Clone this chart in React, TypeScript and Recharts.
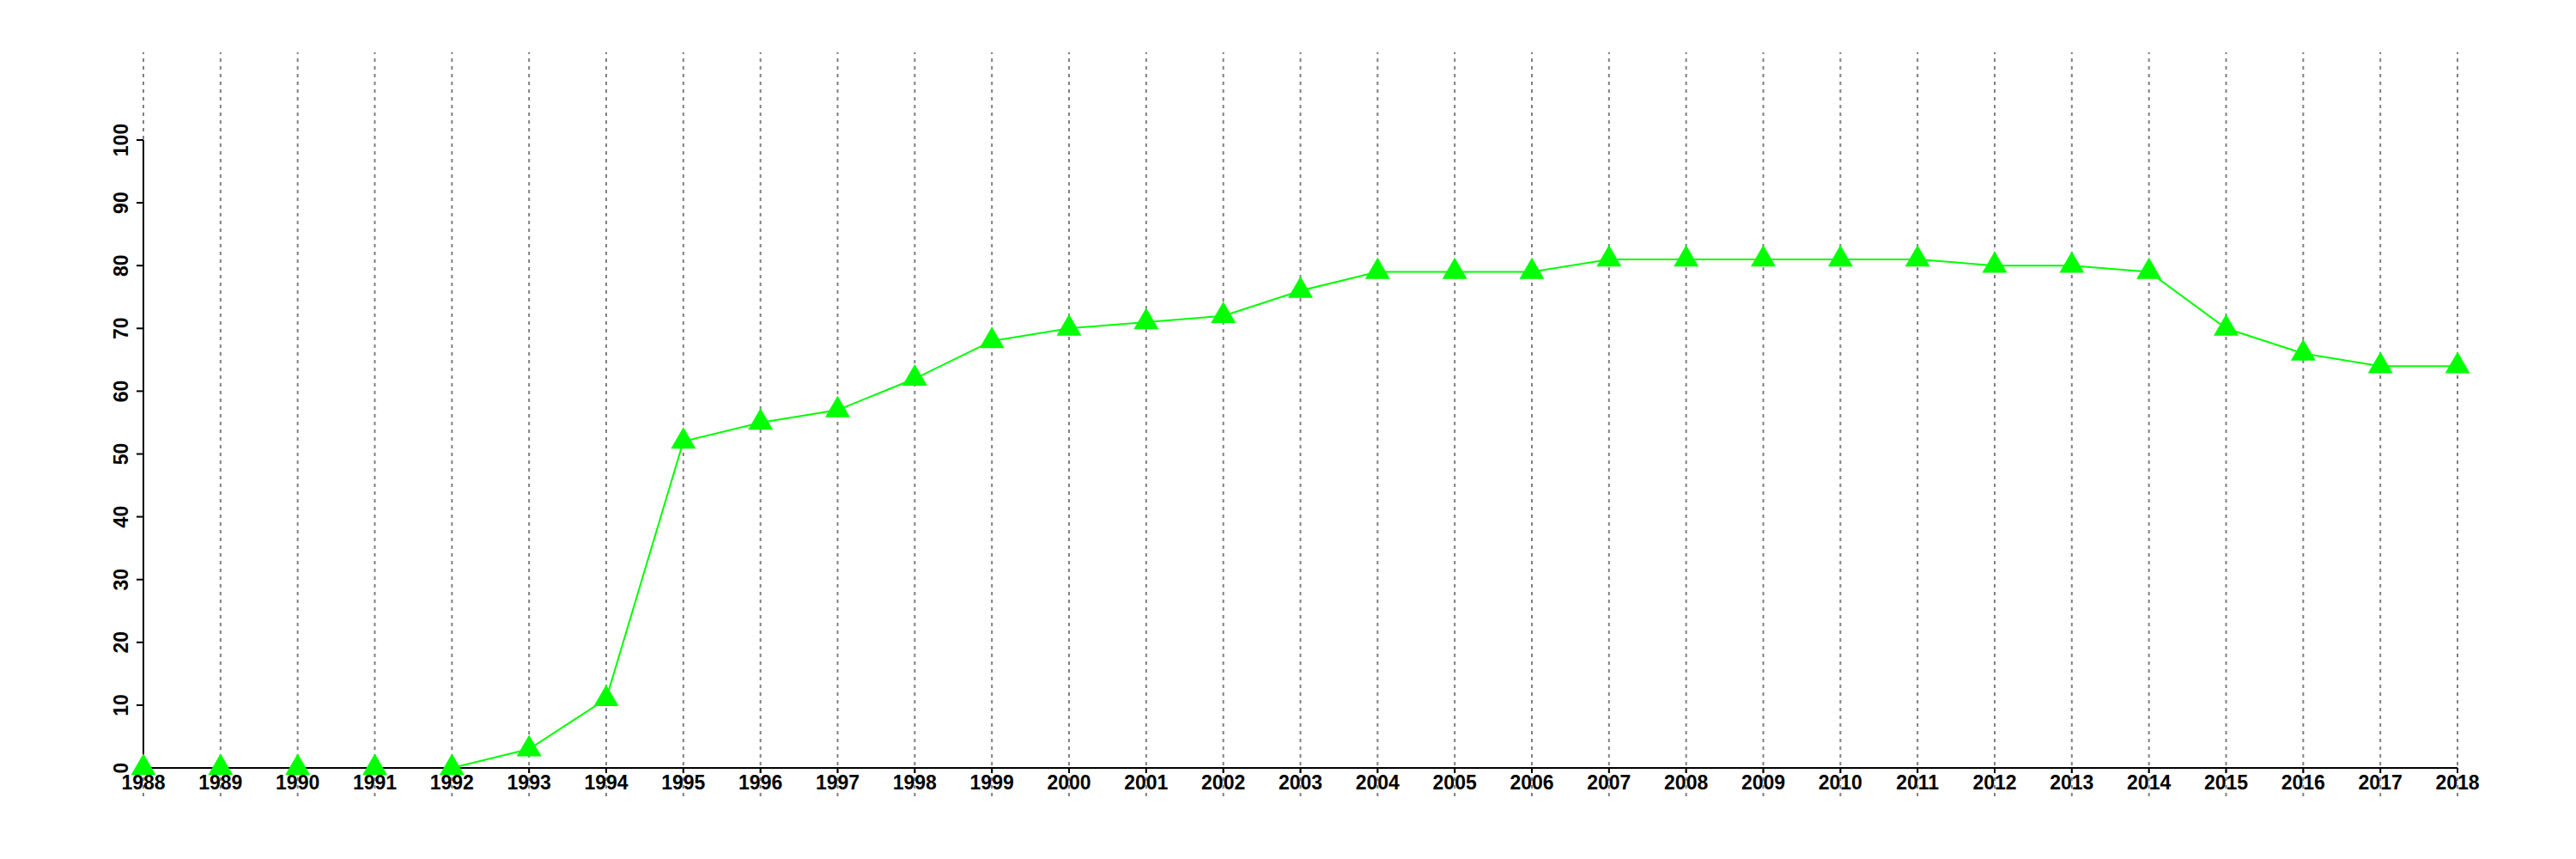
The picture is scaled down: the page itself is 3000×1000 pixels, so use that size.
import { LineChart, Line, XAxis, YAxis, ReferenceLine } from "recharts";

const years = [
  1988, 1989, 1990, 1991, 1992, 1993, 1994, 1995, 1996, 1997, 1998, 1999, 2000,
  2001, 2002, 2003, 2004, 2005, 2006, 2007, 2008, 2009, 2010, 2011, 2012, 2013,
  2014, 2015, 2016, 2017, 2018,
];
const values = [
  0, 0, 0, 0, 0, 3, 11, 52, 55, 57, 62, 68, 70, 71, 72, 76, 79, 79, 79, 81, 81,
  81, 81, 81, 80, 80, 79, 70, 66, 64, 64,
];
const yTicks = [0, 10, 20, 30, 40, 50, 60, 70, 80, 90, 100];
// vertical dotted guides run a bit past the plot on both ends
const gridBottom = -4.5;
const gridTop = 114;

const data = years.map((year, i) => ({ year, value: values[i] }));

const FONT = "'Liberation Sans', Arial, sans-serif";

const Triangle = (props: any) => {
  const { cx, cy, index } = props;
  if (cx == null || cy == null) return null;
  const w = 29;
  const h = 25;
  return (
    <polygon
      key={`tri-${index}`}
      points={`${cx},${cy - (2 * h) / 3} ${cx - w / 2},${cy + h / 3} ${cx + w / 2},${cy + h / 3}`}
      fill="#00ff00"
    />
  );
};

const YTick = (props: any) => {
  const { x, y, payload } = props;
  return (
    <text
      transform={`translate(${x},${y}) rotate(-90)`}
      textAnchor="middle"
      fontFamily={FONT}
      fontWeight="bold"
      fontSize={23}
      fill="#000"
    >
      {payload.value}
    </text>
  );
};

export default function App() {
  return (
    <div style={{ width: 2992, height: 992, background: "#fff" }}>
      <LineChart
        width={2992}
        height={992}
        data={data}
        margin={{ top: 155, right: 138, bottom: 76, left: 99 }}
      >
        <XAxis
          dataKey="year"
          type="number"
          domain={[1988, 2018]}
          ticks={years}
          interval={0}
          height={30}
          tickSize={6}
          tickMargin={3}
          stroke="#000"
          strokeWidth={2}
          tick={{
            fill: "#000",
            fontFamily: FONT,
            fontWeight: "bold",
            fontSize: 23,
          }}
        />
        <YAxis
          type="number"
          domain={[0, 100]}
          ticks={yTicks}
          interval={0}
          width={60}
          tickSize={8}
          tickMargin={10}
          stroke="#000"
          strokeWidth={2}
          tick={<YTick />}
        />
        {years.map((yr) => (
          <ReferenceLine
            key={yr}
            segment={[
              { x: yr, y: gridBottom },
              { x: yr, y: gridTop },
            ]}
            ifOverflow="visible"
            stroke="#808080"
            strokeWidth={2}
            strokeDasharray="4 5"
          />
        ))}
        <Line
          dataKey="value"
          stroke="#00ff00"
          strokeWidth={2}
          dot={<Triangle />}
          activeDot={false}
          isAnimationActive={false}
        />
      </LineChart>
    </div>
  );
}
